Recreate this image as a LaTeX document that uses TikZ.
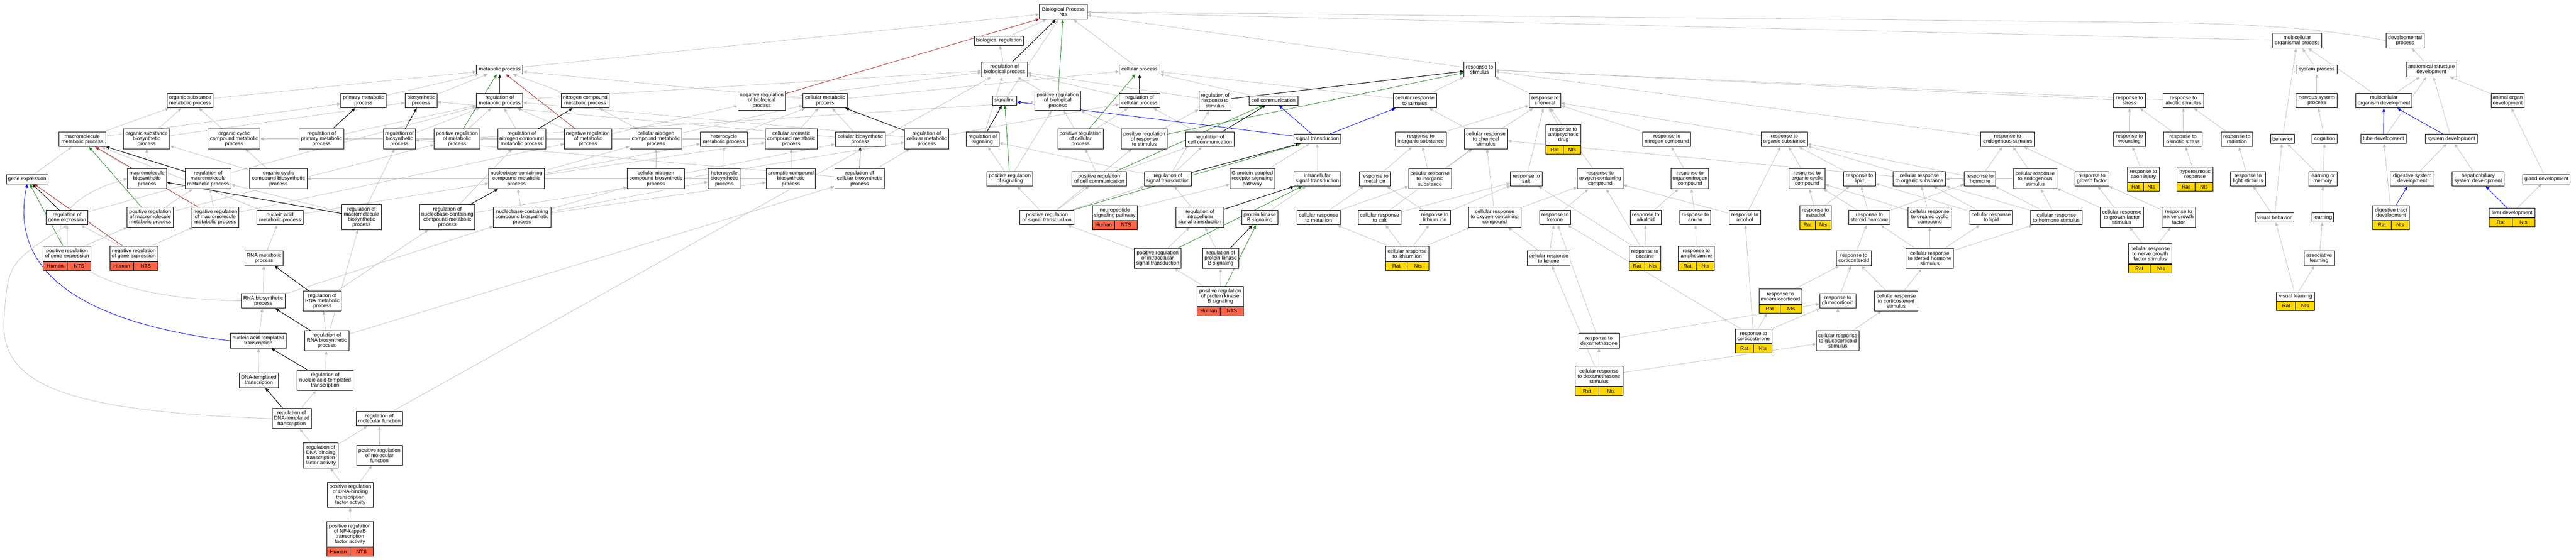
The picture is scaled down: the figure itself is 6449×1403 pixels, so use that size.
\documentclass[tikz,border=0pt]{standalone}
\usepackage{fontspec}
\setmainfont{Liberation Sans}
\usetikzlibrary{arrows.meta}
\pgfdeclarelayer{bg}
\pgfsetlayers{bg,main}
\definecolor{edgegray}{HTML}{BEBEBE}
\definecolor{humc}{HTML}{FF6347}
\definecolor{ratc}{HTML}{FFD700}
\definecolor{posg}{HTML}{228B22}
\definecolor{negr}{HTML}{B22222}
\tikzset{
  gobox/.style={draw=black, line width=1.2pt, fill=white, inner sep=0pt, align=center, font=\fontsize{13}{13}\selectfont},
  n1/.style={minimum height=23}, n2/.style={minimum height=37},
  n3/.style={minimum height=50}, n4/.style={minimum height=63},
  humcell/.style={draw=black, line width=1.2pt, fill=humc, inner sep=0pt, minimum height=22, font=\fontsize{13}{13}\selectfont},
  ratcell/.style={draw=black, line width=1.2pt, fill=ratc, inner sep=0pt, minimum height=22, font=\fontsize{13}{13}\selectfont},
  tip/.style={-{Triangle[length=9pt,width=7.5pt]}},
  egray/.style={draw=edgegray, line width=1pt, tip},
  eblack/.style={draw=black, line width=1.3pt, tip},
  egreen/.style={draw=posg, line width=1.1pt, tip},
  ered/.style={draw=negr, line width=1.1pt, tip},
  eblue/.style={draw=blue, line width=1.1pt, tip}
}
\newcommand\annot[9]{%
  \node[gobox,#5,minimum width=#4] (#1) at (#2,#3) {#6};
  \node[#7,minimum width=#4/2,anchor=north west] (#1-a) at (#1.south west) {#8};
  \node[#7,minimum width=#4/2,anchor=north east] (#1-b) at (#1.south east) {#9};
}
\newcommand\lnk[3][egray]{\draw[#1] (#2) -- (#3);}
\begin{document}
\begin{tikzpicture}[x=1pt,y=-1pt]
\path[use as bounding box] (0,0) rectangle (6449,1403);
% ---------- left block
\node[gobox,n1,minimum width=105] (ge) at (68,449) {gene expression};
\node[gobox,n2,minimum width=115] (osmp) at (476,252) {organic substance\\metabolic process};
\node[gobox,n2,minimum width=113] (pmp) at (910,252) {primary metabolic\\process};
\node[gobox,n2,minimum width=80] (bsp) at (1054,252) {biosynthetic\\process};
\node[gobox,n2,minimum width=117] (mmp) at (206,349) {macromolecule\\metabolic process};
\node[gobox,n3,minimum width=116] (osbp) at (367,348) {organic substance\\biosynthetic\\process};
\node[gobox,n3,minimum width=130] (occmp) at (586,348) {organic cyclic\\compound metabolic\\process};
\node[gobox,n3,minimum width=113] (rpmp) at (805,348) {regulation of\\primary metabolic\\process};
\node[gobox,n3,minimum width=80] (rbsp) at (1000,348) {regulation of\\biosynthetic\\process};
\node[gobox,n3,minimum width=98] (mbp) at (368,448) {macromolecule\\biosynthetic\\process};
\node[gobox,n3,minimum width=115] (rmmp) at (521,448) {regulation of\\macromolecule\\metabolic process};
\node[gobox,n3,minimum width=144] (occbp) at (697,448) {organic cyclic\\compound biosynthetic\\process};
\node[gobox,n2,minimum width=105] (rge) at (168,545) {regulation of\\gene expression};
\node[gobox,n3,minimum width=115] (prmmp) at (376,544) {positive regulation\\of macromolecule\\metabolic process};
\node[gobox,n3,minimum width=118] (nrmmp) at (539,544) {negative regulation\\of macromolecule\\metabolic process};
\node[gobox,n2,minimum width=115] (namp) at (701,545) {nucleic acid\\metabolic process};
\node[gobox,n4,minimum width=99] (rmbp) at (905,544) {regulation of\\macromolecule\\biosynthetic\\process};
\annot{prge}{168}{636}{120}{n2}{positive regulation\\of gene expression}{humcell}{Human}{NTS}
\annot{nrge}{335}{636}{120}{n2}{negative regulation\\of gene expression}{humcell}{Human}{NTS}
\node[gobox,n2,minimum width=96] (rnamp) at (661,647) {RNA metabolic\\process};
\node[gobox,n2,minimum width=110] (rnabp) at (659,754) {RNA biosynthetic\\process};
\node[gobox,n3,minimum width=96] (rrnamp) at (807,754) {regulation of\\RNA metabolic\\process};
\node[gobox,n2,minimum width=140] (natt) at (647,854) {nucleic acid-templated\\transcription};
\node[gobox,n3,minimum width=111] (rrnabp) at (818,854) {regulation of\\RNA biosynthetic\\process};
\node[gobox,n2,minimum width=99] (dtt) at (648,953) {DNA-templated\\transcription};
\node[gobox,n3,minimum width=140] (rnatt) at (814,953) {regulation of\\nucleic acid-templated\\transcription};
\node[gobox,n3,minimum width=98] (rdtt) at (730,1049) {regulation of\\DNA-templated\\transcription};
\node[gobox,n2,minimum width=116] (rmf) at (950,1049) {regulation of\\molecular function};
\node[gobox,n4,minimum width=88] (rdtfa) at (803,1141) {regulation of\\DNA-binding\\transcription\\factor activity};
\node[gobox,n3,minimum width=115] (prmf) at (950,1141) {positive regulation\\of molecular\\function};
\node[gobox,n4,minimum width=114] (prdtfa) at (877,1240) {positive regulation\\of DNA-binding\\transcription\\factor activity};
\annot{prnfkb}{876}{1338.5}{116}{n4}{positive regulation\\of NF-kappaB\\transcription\\factor activity}{humcell}{Human}{NTS}
% ---------- metabolic block
\node[gobox,n1,minimum width=116] (mp) at (1251,174) {metabolic process};
\node[gobox,n2,minimum width=116] (rmp) at (1251,252) {regulation of\\metabolic process};
\node[gobox,n2,minimum width=120] (ncmp2) at (1465,252) {nitrogen compound\\metabolic process};
\node[gobox,n3,minimum width=119] (nrbiop) at (1907,252) {negative regulation\\of biological\\process};
\node[gobox,n2,minimum width=111] (cmp) at (2066,252) {cellular metabolic\\process};
\node[gobox,n3,minimum width=114] (prmp) at (1144,348) {positive regulation\\of metabolic\\process};
\node[gobox,n3,minimum width=120] (rncmp2) at (1306,348) {regulation of\\nitrogen compound\\metabolic process};
\node[gobox,n3,minimum width=118] (nrmp) at (1472,348) {negative regulation\\of metabolic\\process};
\node[gobox,n3,minimum width=131] (cncmp) at (1642,348) {cellular nitrogen\\compound metabolic\\process};
\node[gobox,n2,minimum width=117] (hmp) at (1812,349) {heterocycle\\metabolic process};
\node[gobox,n3,minimum width=130] (camp) at (1981,348) {cellular aromatic\\compound metabolic\\process};
\node[gobox,n2,minimum width=126] (cbp) at (2154,349) {cellular biosynthetic\\process};
\node[gobox,n3,minimum width=139] (ncmp) at (1293,448) {nucleobase-containing\\compound metabolic\\process};
\node[gobox,n3,minimum width=143] (cncbp) at (1642,448) {cellular nitrogen\\compound biosynthetic\\process};
\node[gobox,n3,minimum width=80] (hbp) at (1813,448) {heterocycle\\biosynthetic\\process};
\node[gobox,n3,minimum width=123] (acbp) at (1980,448) {aromatic compound\\biosynthetic\\process};
\node[gobox,n3,minimum width=125] (rcbp) at (2152,448) {regulation of\\cellular biosynthetic\\process};
\node[gobox,n4,minimum width=138] (rncmp) at (1120,544) {regulation of\\nucleobase-containing\\compound metabolic\\process};
\node[gobox,n3,minimum width=144] (ncbp) at (1307,544) {nucleobase-containing\\compound biosynthetic\\process};
% ---------- regulation / signaling block
\node[gobox,n2,minimum width=119] (BP) at (2662,30) {Biological Process\\Nts};
\node[gobox,n1,minimum width=123] (biorg) at (2501,102) {biological regulation};
\node[gobox,n2,minimum width=115] (rbiop) at (2515,174) {regulation of\\biological process};
\node[gobox,n1,minimum width=101] (cp) at (2853,174) {cellular process};
\node[gobox,n1,minimum width=60] (sig) at (2515,252) {signaling};
\node[gobox,n3,minimum width=115] (prbiop) at (2648,252) {positive regulation\\of biological\\process};
\node[gobox,n2,minimum width=101] (rcp) at (2853,252) {regulation of\\cellular process};
\node[gobox,n3,minimum width=81] (rrs) at (3042,252) {regulation of\\response to\\stimulus};
\node[gobox,n1,minimum width=123] (cc) at (3188,252) {cell communication};
\node[gobox,n3,minimum width=111] (rcmp) at (2320,348) {regulation of\\cellular metabolic\\process};
\node[gobox,n2,minimum width=82] (rsig) at (2460,349) {regulation of\\signaling};
\node[gobox,n3,minimum width=114] (prcp) at (2705,348) {positive regulation\\of cellular\\process};
\node[gobox,n3,minimum width=115] (prrs) at (2865,348) {positive regulation\\of response\\to stimulus};
\node[gobox,n2,minimum width=122] (rcc) at (3029,349) {regulation of\\cell communication};
\node[gobox,n2,minimum width=115] (prsig) at (2528,448) {positive regulation\\of signaling};
\node[gobox,n2,minimum width=137] (prcc) at (2752,448) {positive regulation\\of cell communication};
\node[gobox,n2,minimum width=118] (rst) at (2924,448) {regulation of\\signal transduction};
\node[gobox,n3,minimum width=112] (gpcr) at (3135,448) {G protein-coupled\\receptor signaling\\pathway};
\node[gobox,n2,minimum width=135] (prst) at (2621,545) {positive regulation\\of signal transduction};
\annot{nsp}{2791}{533.5}{113}{n2}{neuropeptide\\signaling pathway}{humcell}{Human}{NTS}
\node[gobox,n3,minimum width=119] (rist) at (3004,544) {regulation of\\intracellular\\signal transduction};
\node[gobox,n2,minimum width=91] (pkb) at (3154,545) {protein kinase\\B signaling};
\node[gobox,n3,minimum width=118] (prist) at (2898,647) {positive regulation\\of intracellular\\signal transduction};
\node[gobox,n3,minimum width=91] (rpkb) at (3056,647) {regulation of\\protein kinase\\B signaling};
\annot{prpkb}{3055}{742.5}{116}{n3}{positive regulation\\of protein kinase\\B signaling}{humcell}{Human}{NTS}
% ---------- response block
\node[gobox,n1,minimum width=118] (st) at (3298,348) {signal transduction};
\node[gobox,n2,minimum width=118] (ist) at (3298,448) {intracellular\\signal transduction};
\node[gobox,n2,minimum width=79] (rs) at (3704,174) {response to\\stimulus};
\node[gobox,n2,minimum width=108] (crs) at (3542,252) {cellular response\\to stimulus};
\node[gobox,n2,minimum width=79] (rc) at (3868,252) {response to\\chemical};
\node[gobox,n2,minimum width=127] (ris) at (3557,349) {response to\\inorganic substance};
\node[gobox,n3,minimum width=108] (crcs) at (3720,348) {cellular response\\to chemical\\stimulus};
\annot{rad}{3914}{338}{87}{n3}{response to\\antipsychotic\\drug}{ratcell}{Rat}{Nts}
\node[gobox,n2,minimum width=120] (rnc) at (4173,349) {response to\\nitrogen compound};
\node[gobox,n2,minimum width=78] (rmi) at (3442,448) {response to\\metal ion};
\node[gobox,n3,minimum width=107] (cris) at (3580,448) {cellular response\\to inorganic\\substance};
\node[gobox,n2,minimum width=79] (rsalt) at (3821,448) {response to\\salt};
\node[gobox,n3,minimum width=114] (rocc) at (4006,448) {response to\\oxygen-containing\\compound};
\node[gobox,n3,minimum width=94] (ronc) at (4231,448) {response to\\organonitrogen\\compound};
\node[gobox,n2,minimum width=108] (crmi) at (3301,545) {cellular response\\to metal ion};
\node[gobox,n2,minimum width=107] (crsalt) at (3454,545) {cellular response\\to salt};
\node[gobox,n2,minimum width=78] (rli) at (3592,545) {response to\\lithium ion};
\node[gobox,n3,minimum width=131] (crocc) at (3742,544) {cellular response\\to oxygen-containing\\compound};
\node[gobox,n2,minimum width=78] (rket) at (3893,545) {response to\\ketone};
\node[gobox,n2,minimum width=78] (ralk) at (4120,545) {response to\\alkaloid};
\node[gobox,n2,minimum width=78] (ramine) at (4244,545) {response to\\amine};
\annot{crli}{3523}{636}{108}{n2}{cellular response\\to lithium ion}{ratcell}{Rat}{Nts}
\node[gobox,n2,minimum width=107] (crket) at (3877,647) {cellular response\\to ketone};
\annot{rcoc}{4118}{636}{79}{n2}{response to\\cocaine}{ratcell}{Rat}{Nts}
\annot{ramph}{4247}{636}{90}{n2}{response to\\amphetamine}{ratcell}{Rat}{Nts}
\node[gobox,n2,minimum width=102] (rdex) at (4003,854) {response to\\dexamethasone};
\annot{crdex}{4003}{942.5}{120}{n3}{cellular response\\to dexamethasone\\stimulus}{ratcell}{Rat}{Nts}
% ---------- organic substance block
\node[gobox,n2,minimum width=116] (ros) at (4467,349) {response to\\organic substance};
\node[gobox,n2,minimum width=134] (res) at (5026,349) {response to\\endogenous stimulus};
\node[gobox,n2,minimum width=80] (rstress) at (5331,252) {response to\\stress};
\node[gobox,n2,minimum width=80] (rwound) at (5331,349) {response to\\wounding};
\node[gobox,n3,minimum width=90] (rocc2) at (4524,448) {response to\\organic cyclic\\compound};
\node[gobox,n2,minimum width=80] (rlipid) at (4655,448) {response to\\lipid};
\node[gobox,n2,minimum width=131] (cros) at (4805,448) {cellular response\\to organic substance};
\node[gobox,n2,minimum width=79] (rhorm) at (4957,448) {response to\\hormone};
\node[gobox,n3,minimum width=108] (cres) at (5095,448) {cellular response\\to endogenous\\stimulus};
\node[gobox,n2,minimum width=85] (rgf) at (5237,448) {response to\\growth factor};
\annot{rai}{5366}{437.5}{79}{n2}{response to\\axon injury}{ratcell}{Rat}{Nts}
\node[gobox,n2,minimum width=79] (ralc) at (4368,545) {response to\\alcohol};
\annot{restr}{4545}{533.5}{79}{n2}{response to\\estradiol}{ratcell}{Rat}{Nts}
\node[gobox,n2,minimum width=103] (rsh) at (4680,545) {response to\\steroid hormone};
\node[gobox,n3,minimum width=108] (crocc2) at (4831,544) {cellular response\\to organic cyclic\\compound};
\node[gobox,n2,minimum width=107] (crlip) at (4985,545) {cellular response\\to lipid};
\node[gobox,n2,minimum width=129] (crhs) at (5148,545) {cellular response\\to hormone stimulus};
\node[gobox,n3,minimum width=108] (crgf) at (5312,544) {cellular response\\to growth factor\\stimulus};
\node[gobox,n2,minimum width=88] (rcort) at (4641,647) {response to\\corticosteroid};
\node[gobox,n3,minimum width=118] (crshs) at (4831,647) {cellular response\\to steroid hormone\\stimulus};
\annot{crngf}{5383}{636}{109}{n3}{cellular response\\to nerve growth\\factor stimulus}{ratcell}{Rat}{Nts}
\annot{rmin}{4457}{743}{107}{n2}{response to\\mineralocorticoid}{ratcell}{Rat}{Nts}
\node[gobox,n2,minimum width=91] (rgluc) at (4601,754) {response to\\glucocorticoid};
\node[gobox,n3,minimum width=108] (crcort) at (4747,754) {cellular response\\to corticosteroid\\stimulus};
\annot{rcorts}{4390}{843}{92}{n2}{response to\\corticosterone}{ratcell}{Rat}{Nts}
\node[gobox,n3,minimum width=107] (crgluc) at (4601,854) {cellular response\\to glucocorticoid\\stimulus};
% ---------- developmental block
\node[gobox,n2,minimum width=123] (mop) at (5751,102) {multicellular\\organismal process};
\node[gobox,n2,minimum width=95] (dp) at (6021,102) {developmental\\process};
\node[gobox,n1,minimum width=103] (sp) at (5800,174) {system process};
\node[gobox,n2,minimum width=127] (asd) at (6087,174) {anatomical structure\\development};
\node[gobox,n2,minimum width=103] (rabio) at (5466,252) {response to\\abiotic stimulus};
\node[gobox,n2,minimum width=103] (nsp2) at (5800,252) {nervous system\\process};
\node[gobox,n2,minimum width=141] (mod) at (5968,252) {multicellular\\organism development};
\node[gobox,n2,minimum width=83] (aod) at (6278,252) {animal organ\\development};
\node[gobox,n2,minimum width=96] (rosm) at (5465,349) {response to\\osmotic stress};
\node[gobox,n2,minimum width=79] (rrad) at (5600,349) {response to\\radiation};
\node[gobox,n1,minimum width=59] (beh) at (5714,348) {behavior};
\node[gobox,n1,minimum width=63] (cog) at (5820,348) {cognition};
\node[gobox,n1,minimum width=114] (tube) at (5967,348) {tube development};
\node[gobox,n1,minimum width=131] (sysd) at (6137,348) {system development};
\annot{hyper}{5495}{437.5}{90}{n2}{hyperosmotic\\response}{ratcell}{Rat}{Nts}
\node[gobox,n2,minimum width=87] (rls) at (5628,448) {response to\\light stimulus};
\node[gobox,n2,minimum width=71] (lom) at (5815,448) {learning or\\memory};
\node[gobox,n2,minimum width=110] (dsd) at (6039,448) {digestive system\\development};
\node[gobox,n2,minimum width=131] (hsd) at (6204,448) {hepaticobiliary\\system development};
\node[gobox,n1,minimum width=119] (gland) at (6375,449) {gland development};
\node[gobox,n3,minimum width=84] (rngf) at (5454,544) {response to\\nerve growth\\factor};
\node[gobox,n1,minimum width=97] (vb) at (5694,545) {visual behavior};
\node[gobox,n1,minimum width=55] (learn) at (5815,545) {learning};
\annot{dtd}{5986}{533.5}{92}{n2}{digestive tract\\development}{ratcell}{Rat}{Nts}
\annot{liver}{6289}{533.5}{114}{n1}{liver development}{ratcell}{Rat}{Nts}
\node[gobox,n2,minimum width=76] (al) at (5806,647) {associative\\learning};
\annot{vl}{5747}{743}{95}{n1}{visual learning}{ratcell}{Rat}{Nts}
% ================= edges
\begin{pgfonlayer}{bg}
% left block
\lnk{ge}{mmp}\lnk{mmp}{osmp}\lnk{mmp}{pmp}\lnk{osbp}{osmp}\lnk{osbp}{bsp}\lnk{occmp}{osmp}
\lnk[eblack]{rpmp}{pmp}\lnk{rpmp}{rmp}\lnk[eblack]{rbsp}{bsp}\lnk{rbsp}{rmp}
\lnk{mbp}{mmp}\lnk{mbp}{osbp}\lnk[eblack]{rmmp}{mmp}\lnk{rmmp}{rmp}
\lnk{occbp}{occmp}\lnk{occbp}{osbp}\lnk[eblack]{rge}{ge}\lnk{rge}{rmmp}
\lnk[egreen]{prmmp}{mmp}\lnk{prmmp}{rmmp}\lnk{prmmp}{prmp}
\lnk[ered]{nrmmp}{mmp}\lnk{nrmmp}{rmmp}\lnk{nrmmp}{nrmp}
\lnk{namp}{mmp}\lnk{namp}{ncmp}
\lnk[eblack]{rmbp}{mbp}\lnk{rmbp}{rmmp}\lnk{rmbp}{rbsp}
\lnk[egreen]{prge}{ge}\lnk{prge}{rge}\lnk{prge}{prmmp}
\lnk[ered]{nrge}{ge}\lnk{nrge}{rge}\lnk{nrge}{nrmmp}
\lnk{rnamp}{namp}\lnk{rnabp}{rnamp}\lnk{rnabp}{ncbp}
\draw[egray] (rnabp.west) .. controls (80,745) and (50,520) .. (mbp.west);
\lnk[eblack]{rrnamp}{rnamp}\lnk{rrnamp}{rncmp}
\lnk{natt}{rnabp}
\draw[eblue] (natt.west) .. controls (220,810) and (20,690) .. (ge.south);
\lnk[eblack]{rrnabp}{rnabp}\lnk{rrnabp}{rrnamp}\lnk{rrnabp}{rmbp}\lnk{rrnabp}{rcbp}
\lnk{dtt}{natt}\lnk[eblack]{rnatt}{natt}\lnk{rnatt}{rrnabp}
\lnk[eblack]{rdtt}{dtt}\lnk{rdtt}{rnatt}
\draw[egray] (rdtt.west) .. controls (150,1030) and (0,960) .. (10,800) .. controls (20,660) .. (rge.south);
\lnk{rmf}{rbiop}\lnk{rdtfa}{rdtt}\lnk{rdtfa}{rmf}\lnk{prmf}{rmf}
\lnk{prdtfa}{rdtfa}\lnk{prdtfa}{prmf}\lnk{prnfkb}{prdtfa}
\lnk{osmp}{mp}\lnk{pmp}{mp}\lnk{bsp}{mp}
% metabolic block
\lnk{mp}{BP}\lnk[eblack]{rmp}{mp}\lnk{rmp}{rbiop}\lnk{ncmp2}{mp}
\lnk[ered]{nrbiop}{BP}\lnk{nrbiop}{rbiop}\lnk{cmp}{mp}\lnk{cmp}{cp}
\lnk[egreen]{prmp}{mp}\lnk{prmp}{rmp}\lnk{prmp}{prbiop}
\lnk[eblack]{rncmp2}{ncmp2}\lnk{rncmp2}{rmp}\lnk{rncmp2}{rpmp}
\lnk[ered]{nrmp}{mp}\lnk{nrmp}{rmp}\lnk{nrmp}{nrbiop}
\lnk{cncmp}{ncmp2}\lnk{cncmp}{cmp}\lnk{hmp}{occmp}\lnk{hmp}{cmp}
\lnk{camp}{cmp}\lnk{camp}{occmp}\lnk{cbp}{cmp}\lnk{cbp}{bsp}
\lnk{ncmp}{cncmp}\lnk{ncmp}{hmp}\lnk{ncmp}{camp}
\lnk{cncbp}{cncmp}\lnk{cncbp}{cbp}\lnk{hbp}{hmp}\lnk{hbp}{occbp}
\lnk{acbp}{camp}\lnk{acbp}{occbp}
\lnk[eblack]{rcbp}{cbp}\lnk{rcbp}{rbsp}\lnk{rcbp}{rcmp}
\lnk[eblack]{rncmp}{ncmp}\lnk{rncmp}{rncmp2}\lnk{rncmp}{rcmp}
\lnk{ncbp}{ncmp}\lnk{ncbp}{cncbp}\lnk{ncbp}{hbp}\lnk{ncbp}{acbp}
% regulation / signaling block
\lnk{biorg}{BP}\lnk[eblack]{rbiop}{BP}\lnk{rbiop}{biorg}\lnk{cp}{BP}\lnk{sig}{BP}
\lnk[egreen]{prbiop}{BP}\lnk{prbiop}{rbiop}
\lnk[eblack]{rcp}{cp}\lnk{rcp}{rbiop}
\lnk[eblack]{rrs}{rs}\lnk{rrs}{rbiop}\lnk{cc}{cp}
\lnk[eblack]{rcmp}{cmp}\lnk{rcmp}{rcp}\lnk{rcmp}{rmp}
\lnk[eblack]{rsig}{sig}\lnk{rsig}{rbiop}
\lnk[egreen]{prcp}{cp}\lnk{prcp}{rcp}\lnk{prcp}{prbiop}
\lnk[egreen]{prrs}{rs}\lnk{prrs}{rrs}\lnk{prrs}{prbiop}
\lnk[eblack]{rcc}{cc}\lnk{rcc}{rcp}
\lnk[egreen]{prsig}{sig}\lnk{prsig}{rsig}\lnk{prsig}{prbiop}
\lnk[egreen]{prcc}{cc}\lnk{prcc}{rcc}\lnk{prcc}{prcp}
\lnk[eblack]{rst}{st}\lnk{rst}{rsig}\lnk{rst}{rcc}\lnk{rst}{rrs}
\lnk{gpcr}{st}
\lnk[egreen]{prst}{st}\lnk{prst}{prsig}\lnk{prst}{prcc}\lnk{prst}{rst}\lnk{prst}{prrs}
\lnk{nsp}{gpcr}
\lnk[eblack]{rist}{ist}\lnk{rist}{rst}\lnk{pkb}{ist}
\lnk[egreen]{prist}{ist}\lnk{prist}{prst}\lnk{prist}{rist}
\lnk[eblack]{rpkb}{pkb}\lnk{rpkb}{rist}
\lnk[egreen]{prpkb}{pkb}\lnk{prpkb}{rpkb}\lnk{prpkb}{prist}
% response block
\lnk[eblue]{st}{sig}\lnk[eblue]{st}{cc}\lnk[eblue]{st}{crs}\lnk{ist}{st}
\lnk{rs}{BP}\lnk{crs}{rs}\lnk{crs}{cp}\lnk{rc}{rs}\lnk{ris}{rc}
\lnk{crcs}{crs}\lnk{crcs}{rc}\lnk{rad}{rc}\lnk{rnc}{rc}\lnk{rmi}{ris}
\lnk{cris}{ris}\lnk{cris}{crcs}\lnk{rsalt}{rc}\lnk{rocc}{rc}\lnk{ronc}{rnc}
\lnk{crmi}{rmi}\lnk{crmi}{cris}\lnk{crsalt}{rsalt}\lnk{crsalt}{crcs}
\lnk{rli}{rmi}\lnk{rli}{rsalt}\lnk{crocc}{crcs}\lnk{crocc}{rocc}
\lnk{rket}{rocc}\lnk{ralk}{ronc}\lnk{ramine}{ronc}
\lnk{crli}{crmi}\lnk{crli}{crsalt}\lnk{crli}{rli}\lnk{crli}{crocc}
\lnk{crket}{rket}\lnk{crket}{crocc}
\lnk{rcoc}{ralk}\lnk{rcoc}{rocc}\lnk{rcoc}{rsalt}\lnk{ramph}{ramine}
\lnk{rdex}{rket}\lnk{rdex}{rgluc}
\lnk{crdex}{rdex}\lnk{crdex}{crket}\lnk{crdex}{crgluc}
% organic substance block
\lnk{ros}{rc}\lnk{res}{rs}\lnk{rstress}{rs}\lnk{rwound}{rstress}
\lnk{rocc2}{ros}\lnk{rlipid}{ros}\lnk{cros}{ros}\lnk{cros}{crcs}
\lnk{rhorm}{res}\lnk{rhorm}{ros}\lnk{cres}{res}\lnk{cres}{cros}
\lnk{rgf}{res}\lnk{rai}{rwound}\lnk{ralc}{ros}\lnk{ralc}{rocc}
\lnk{restr}{rocc2}\lnk{restr}{rlipid}
\lnk{rsh}{rlipid}\lnk{rsh}{rhorm}\lnk{rsh}{rocc2}
\lnk{crocc2}{rocc2}\lnk{crocc2}{cros}\lnk{crlip}{rlipid}\lnk{crlip}{cros}
\lnk{crhs}{rhorm}\lnk{crhs}{cres}\lnk{crhs}{cros}
\lnk{crgf}{rgf}\lnk{crgf}{cres}\lnk{rcort}{rsh}
\lnk{crshs}{rsh}\lnk{crshs}{crocc2}\lnk{crshs}{crlip}\lnk{crshs}{crhs}
\lnk{crngf}{rngf}\lnk{crngf}{crgf}\lnk{rngf}{rgf}
\lnk{rmin}{rcort}\lnk{rgluc}{rcort}\lnk{crcort}{rcort}\lnk{crcort}{crshs}
\lnk{rcorts}{ralc}\lnk{rcorts}{rmin-a}\lnk{rcorts}{rgluc}\lnk{rcorts}{rket}
\lnk{crgluc}{rgluc}\lnk{crgluc}{crcort}
% developmental block
\lnk{mop}{BP}
\draw[egray] (dp.west) .. controls (5850,78) and (5700,60) .. (5375,56) -- (BP.east);
\lnk{sp}{mop}\lnk{asd}{dp}\lnk{rabio}{rs}\lnk{nsp2}{sp}
\lnk{mod}{mop}\lnk{mod}{asd}\lnk{aod}{asd}
\lnk{rosm}{rabio}\lnk{rosm}{rstress}\lnk{rrad}{rabio}
\lnk{beh}{mop}\lnk{cog}{nsp2}
\lnk[eblue]{tube}{mod}\lnk{tube}{asd}\lnk[eblue]{sysd}{mod}\lnk{sysd}{asd}
\lnk{hyper}{rosm}\lnk{rls}{rrad}\lnk{lom}{beh}\lnk{lom}{cog}
\lnk{dsd}{sysd}\lnk{hsd}{sysd}\lnk{gland}{aod}
\lnk{vb}{beh}\lnk{vb}{rls}\lnk{learn}{lom}
\lnk[eblue]{dtd}{dsd}\lnk{dtd}{tube}\lnk[eblue]{liver}{hsd}\lnk{liver}{gland}
\lnk{al}{learn}\lnk{vl}{vb}\lnk{vl}{al}
\end{pgfonlayer}
\end{tikzpicture}
\end{document}
